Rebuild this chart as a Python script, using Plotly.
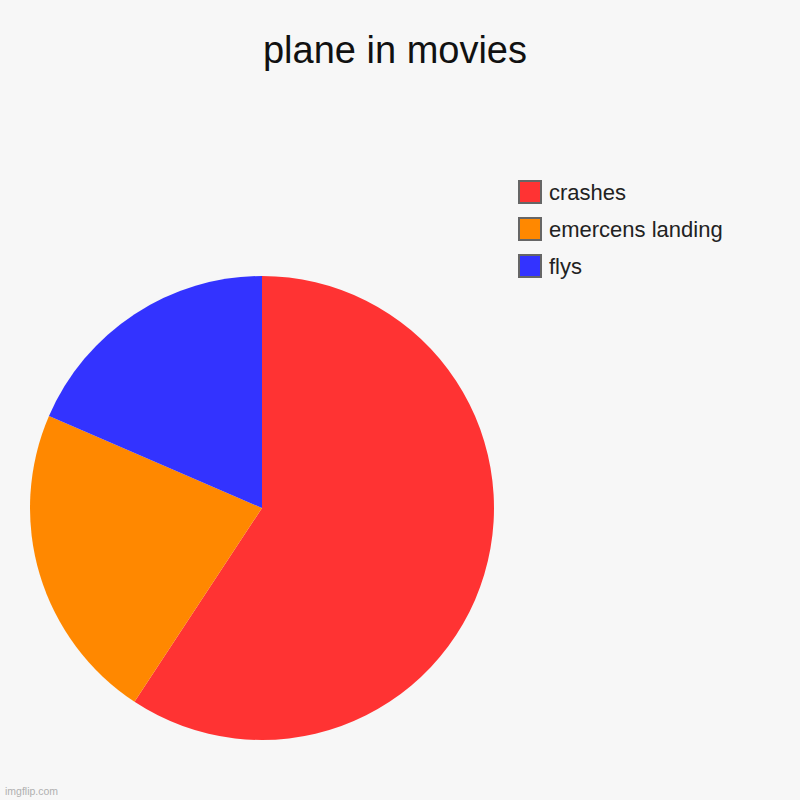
import plotly.graph_objects as go

labels = ["crashes", "emercens landing", "flys"]
values = [16, 6, 5]
colors = ["#ff3333", "#ff8800", "#3333ff"]
title = "plane in movies"

W = H = 800
def px(x): return x / W
def py(y): return 1 - y / H

fig = go.Figure(go.Pie(
    labels=labels, values=values, sort=False, direction="clockwise",
    rotation=0, marker=dict(colors=colors, line=dict(width=0)),
    textinfo="none", hoverinfo="label+value+percent",
    domain=dict(x=[px(30), px(494)], y=[py(740), py(276)]),
    showlegend=False,
))

shapes = []
annotations = []
for i, (lab, col) in enumerate(zip(labels, colors)):
    top = 181 + i * 37
    shapes.append(dict(type="rect", xref="paper", yref="paper",
                       x0=px(519), x1=px(541), y0=py(top + 22), y1=py(top),
                       fillcolor=col, line=dict(color="#666666", width=2)))
    annotations.append(dict(text=lab, xref="paper", yref="paper",
                            x=px(547), y=py(top + 11), xanchor="left", yanchor="middle",
                            showarrow=False, font=dict(size=22, color="#222222",
                                                       family="Liberation Sans, Arial")))
annotations.append(dict(text="imgflip.com", xref="paper", yref="paper",
                        x=px(3), y=py(791), xanchor="left", yanchor="middle",
                        showarrow=False, font=dict(size=10.5, color="#b0b0b0",
                                                   family="Liberation Sans, Arial")))

fig.update_layout(
    width=W, height=H, margin=dict(l=0, r=0, t=0, b=0),
    paper_bgcolor="#f7f7f7", plot_bgcolor="#f7f7f7",
    title=dict(text=title, x=395 / W, xanchor="center", y=py(50), yanchor="middle",
               font=dict(size=38, color="#111111", family="Liberation Sans, Arial")),
    shapes=shapes, annotations=annotations,
)
fig.write_html("out.html", config={"displayModeBar": False},
               post_script="document.body.style.margin='0';document.body.style.background='#f7f7f7';")
